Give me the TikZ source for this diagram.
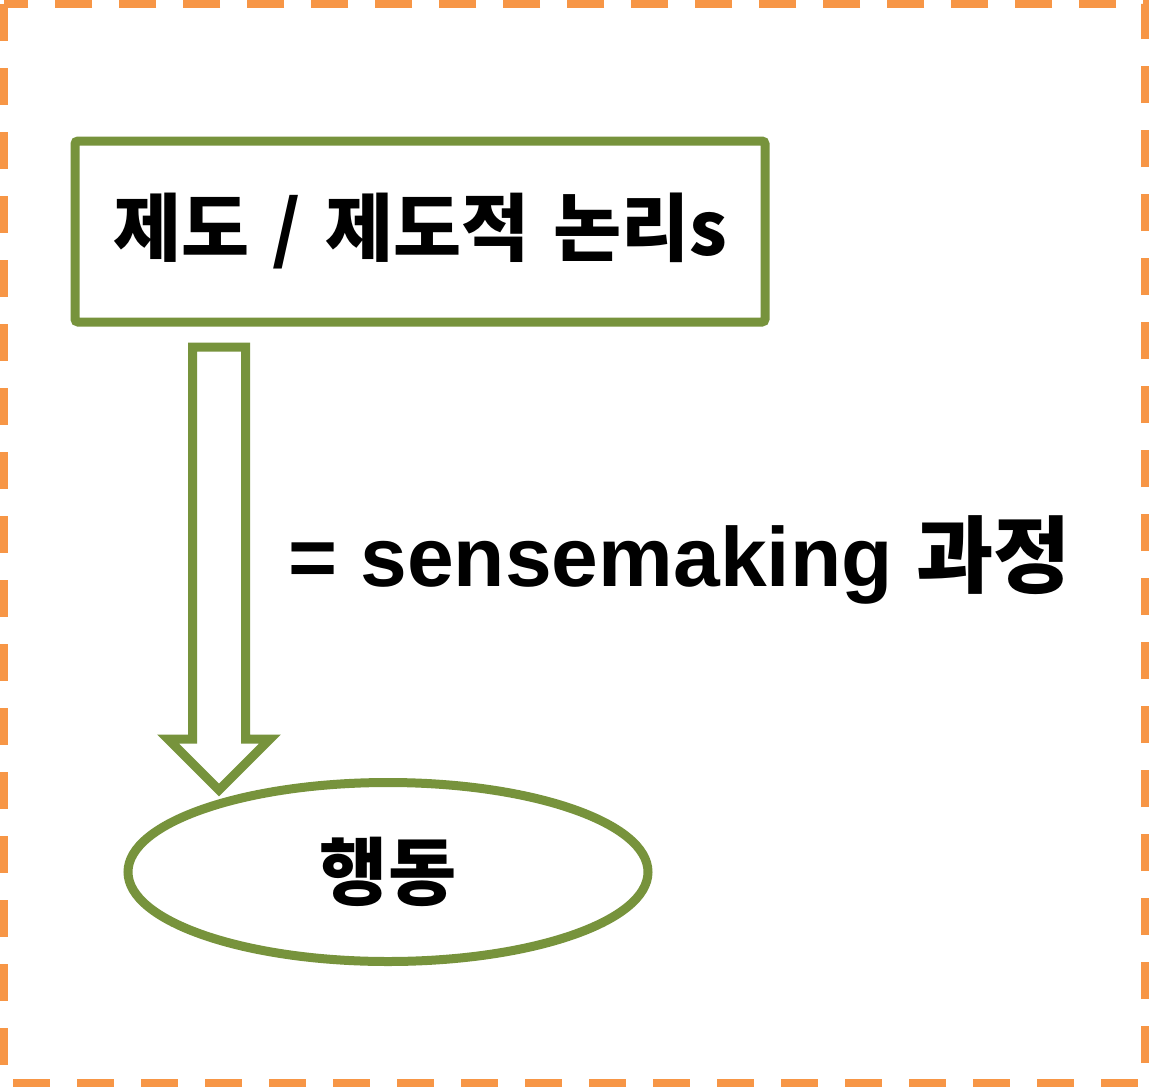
\documentclass[tikz,border=0pt]{standalone}
\usepackage{fontspec}
\setmainfont{Liberation Sans}
\newfontfamily\kr{Noto Sans CJK KR}[WordSpace=1.4]
\usetikzlibrary{shapes.geometric,calc}
\definecolor{olivegreen}{HTML}{77933C}
\definecolor{dashorange}{HTML}{F79646}
\begin{document}
\begin{tikzpicture}[x=1pt,y=-1pt,
  greenline/.style={draw=olivegreen,line width=9pt,outer sep=0pt},
  framebox/.style={draw=dashorange,line width=8pt,dash pattern=on 37pt off 27pt},
  krbig/.style={font=\kr\bfseries\fontsize{74}{78}\selectfont},
  latinbig/.style={font=\bfseries\fontsize{84}{90}\selectfont}]
\useasboundingbox (0,0) rectangle (1149,1087);
\fill[white] (0,0) rectangle (1149,1087);
\draw[framebox] (4,4) rectangle (1145,1083);
\node[greenline, rectangle, rounded corners=3pt, minimum width=690pt, minimum height=181pt, inner sep=0pt, krbig] (inst) at (420,231.5) {제도 / 제도적 논리s};
\node[greenline, ellipse, minimum width=520pt, minimum height=179pt, inner sep=0pt, krbig] (act) at (388,872) {행동};
\node[latinbig, anchor=west, inner sep=0pt] (sm) at (288,560) {= sensemaking {\kr 과정}};
\coordinate (atop) at ($(inst.south west)+(144,25)$);
\coordinate (atip) at ($(atop)+(0,443)$);
\draw[greenline, fill=white, line join=miter]
  ($(atop)+(-26.5,0)$) -- ($(atop)+(26.5,0)$) -- ($(atip)+(26.5,-51)$) -- ($(atip)+(51,-51)$)
  -- (atip) -- ($(atip)+(-51,-51)$) -- ($(atip)+(-26.5,-51)$) -- cycle;
\end{tikzpicture}
\end{document}
